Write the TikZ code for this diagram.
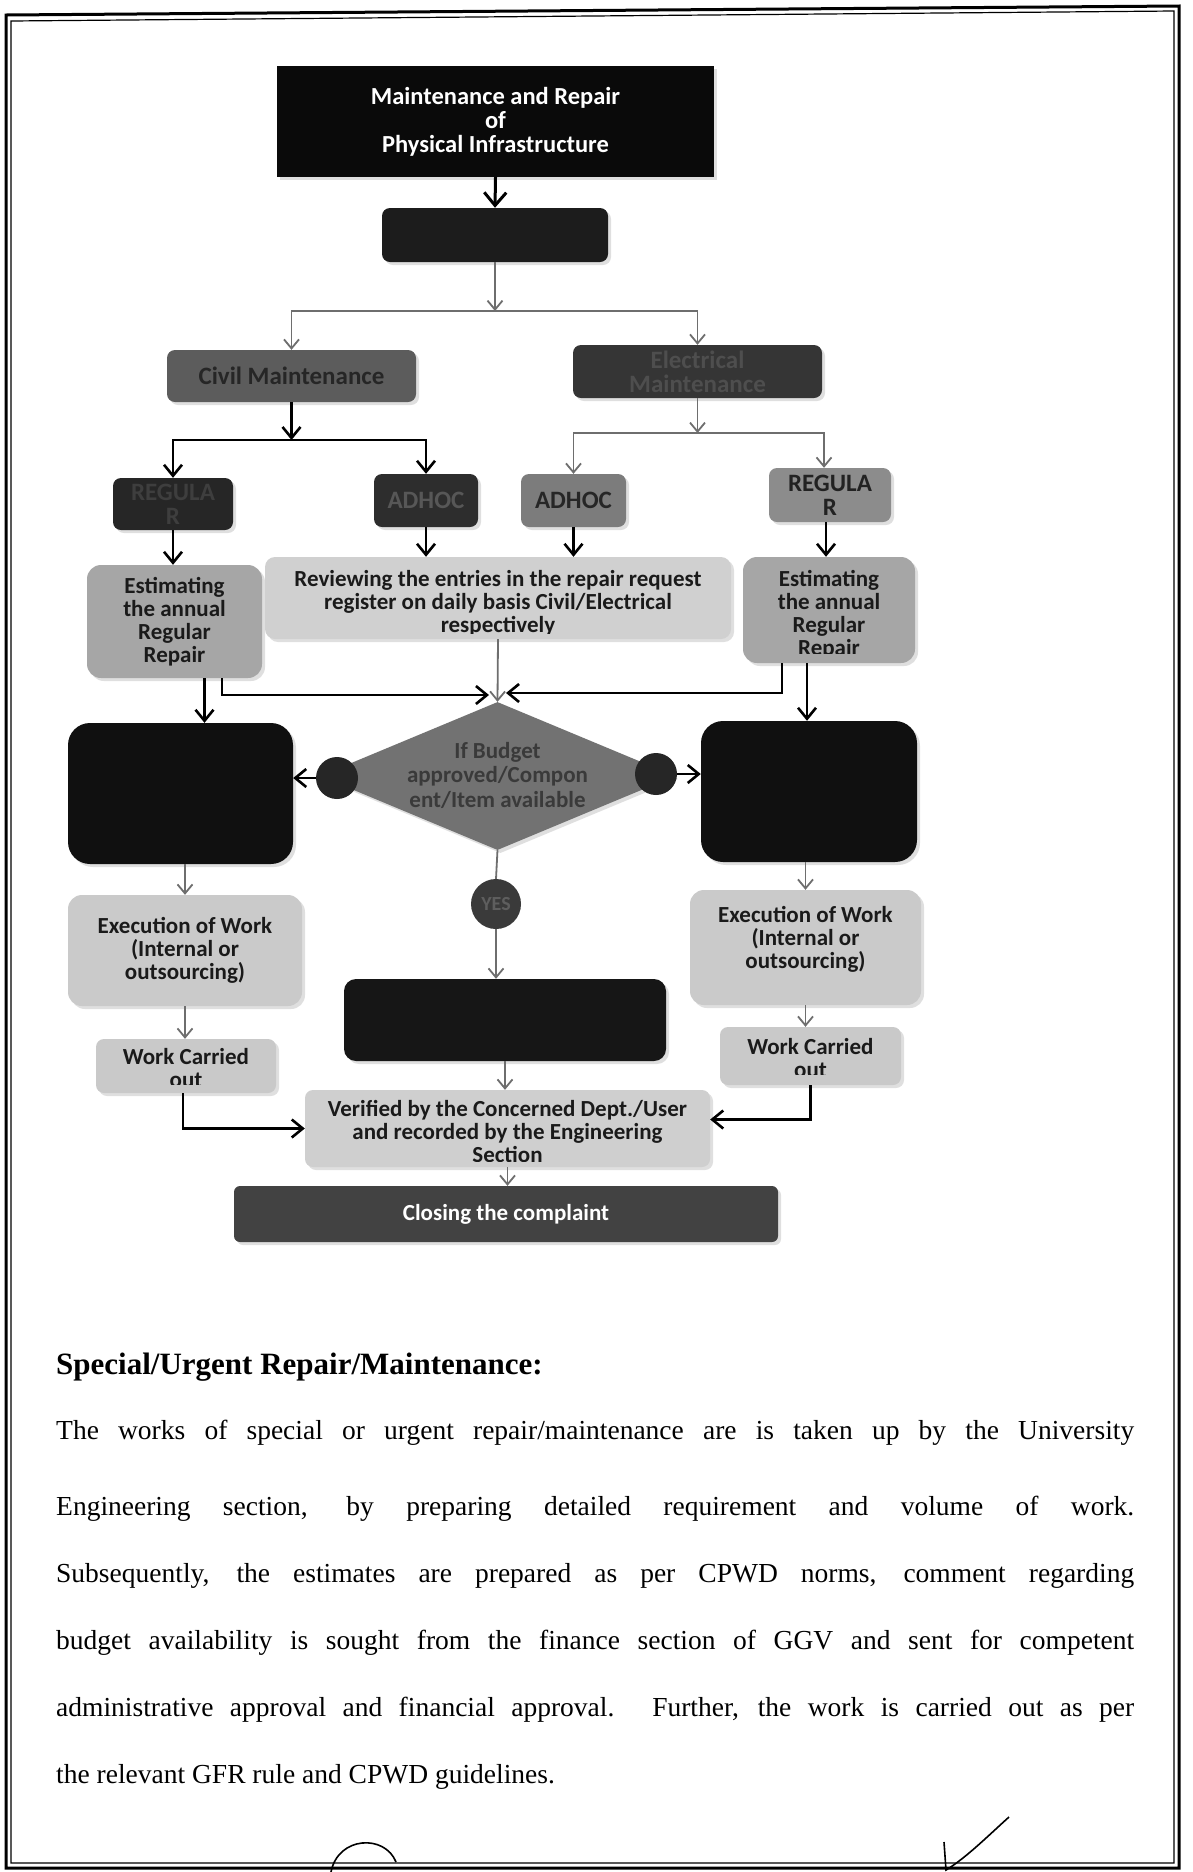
\documentclass[tikz,border=0pt]{standalone}
\usepackage{fontspec}
\setmainfont{Liberation Serif}
\newfontfamily\calfont{Carlito}
\usetikzlibrary{arrows.meta,shapes.geometric,shadows}
\definecolor{cLineG}{HTML}{6E6E6E}
\definecolor{cTop}{HTML}{0A0A0A}
\definecolor{cSecond}{HTML}{1C1C1C}
\definecolor{cCivil}{HTML}{5C5C5C}
\definecolor{tCivil}{HTML}{262626}
\definecolor{cElec}{HTML}{353535}
\definecolor{tElec}{HTML}{4E4E4E}
\definecolor{cRegC}{HTML}{262626}
\definecolor{tRegC}{HTML}{3E3E3E}
\definecolor{cAdhC}{HTML}{2D2D2D}
\definecolor{tAdhC}{HTML}{575757}
\definecolor{cAdhE}{HTML}{7C7C7C}
\definecolor{tAdhE}{HTML}{262626}
\definecolor{cRegE}{HTML}{8C8C8C}
\definecolor{tRegE}{HTML}{222222}
\definecolor{cEst}{HTML}{A6A6A6}
\definecolor{cRev}{HTML}{D0D0D0}
\definecolor{cDark}{HTML}{101010}
\definecolor{cDia}{HTML}{727272}
\definecolor{tDia}{HTML}{3A3A3A}
\definecolor{cKnob}{HTML}{262626}
\definecolor{cYes}{HTML}{3A3A3A}
\definecolor{tYes}{HTML}{5E5E5E}
\definecolor{cExe}{HTML}{CACACA}
\definecolor{cMid}{HTML}{161616}
\definecolor{cWc}{HTML}{C9C9C9}
\definecolor{cVer}{HTML}{CFCFCF}
\definecolor{cClose}{HTML}{424242}
\definecolor{txtD}{HTML}{1A1A1A}
\begin{document}
\begin{tikzpicture}[x=1pt,y=-1pt,
  every node/.style={inner sep=0pt},
  box/.style={rounded corners=8pt, align=center, font=\calfont\bfseries\fontsize{23}{23}\selectfont, text=txtD, drop shadow={shadow xshift=3pt,shadow yshift=-3pt,opacity=0.25}},
  bigbox/.style={box, font=\calfont\bfseries\fontsize{25}{24}\selectfont},
  darkbox/.style={box, rounded corners=22pt, fill=cDark},
  lbl/.style={align=center, font=\calfont\bfseries\fontsize{23}{23}\selectfont, text=txtD},
  arrK/.style={draw=black, line width=2.6pt, -{Straight Barb[length=11pt,width=18pt]}},
  arrG/.style={draw=cLineG, line width=1.8pt, -{Straight Barb[length=9pt,width=15pt]}},
  lineK/.style={draw=black, line width=2.6pt},
  lineG/.style={draw=cLineG, line width=1.8pt},
  knob/.style={circle, fill=cKnob, minimum size=42pt},
  para/.style={anchor=base west, font=\fontsize{27.5}{27.5}\selectfont},
]
\useasboundingbox (0,0) rectangle (1192,1872);
\fill[white] (0,0) rectangle (1192,1872);
% page border
\draw[line width=3pt] (6,15) -- (1179,6) -- (1179,1868) -- (6,1868) -- cycle;
\draw[line width=1.2pt] (11,21) -- (1174,11) -- (1174,1863) -- (11,1863) -- cycle;

% ---------- nodes ----------
\node[box, rounded corners=0pt, fill=cTop, text=white, minimum width=437pt, minimum height=111pt,
      font=\calfont\bfseries\fontsize{24.5}{24}\selectfont] (top) at (495.5,121.5)
      {Maintenance and Repair\\of\\Physical Infrastructure};
\node[box, fill=cSecond, minimum width=226pt, minimum height=54pt] (second) at (495,235) {};

\node[bigbox, fill=cCivil, text=tCivil, minimum width=249pt, minimum height=52pt] (civil) at (291.5,376) {Civil Maintenance};
\node[bigbox, fill=cElec, text=tElec, minimum width=249pt, minimum height=53pt] (elec) at (697.5,371.5) {Electrical\\Maintenance};

\node[bigbox, fill=cRegC, text=tRegC, minimum width=120pt, minimum height=52pt] (regC) at (173,504) {REGULA\\R};
\node[bigbox, fill=cAdhC, text=tAdhC, minimum width=104pt, minimum height=53pt] (adhC) at (426,500.5) {ADHOC};
\node[bigbox, fill=cAdhE, text=tAdhE, minimum width=105pt, minimum height=53pt] (adhE) at (573.5,500.5) {ADHOC};
\node[bigbox, fill=cRegE, text=tRegE, minimum width=122pt, minimum height=54pt] (regE) at (830,495) {REGULA\\R};

\node[box, rounded corners=14pt, fill=cEst, minimum width=175pt, minimum height=113pt] (estL) at (174.5,621.5)
      {Estimating\\the annual\\Regular\\Repair};
\node[box, rounded corners=10pt, fill=cRev, minimum width=466pt, minimum height=82pt] (rev) at (498,598) {};
\begin{scope}
  \clip (265,550) rectangle (731,633);
  \node[lbl] (revtxt) at (498,603) {Reviewing the entries in the repair request\\register on daily basis Civil/Electrical\\respectively};
\end{scope}
\node[box, rounded corners=14pt, fill=cEst, minimum width=172pt, minimum height=106pt] (estR) at (829,610) {};
\begin{scope}
  \clip (743,550) rectangle (915,653);
  \node[lbl] (estRtxt) at (829,615) {Estimating\\the annual\\Regular\\Repair};
\end{scope}

\node[darkbox, minimum width=225pt, minimum height=141pt] (darkL) at (180.5,793.5) {};
\node[darkbox, minimum width=216pt, minimum height=141pt] (darkR) at (809,791.5) {};

\node[diamond, fill=cDia, minimum width=355pt, minimum height=148pt, drop shadow={shadow xshift=3pt,shadow yshift=-3pt,opacity=0.25}] (dia) at (497.5,776) {};
\node[lbl, text=tDia, font=\calfont\bfseries\fontsize{23}{24.5}\selectfont] (diatxt) at (497.5,775) {If Budget\\approved/Compon\\ent/Item available};
\node[knob] (circL) at (337,778) {};
\node[knob] (circR) at (656,774) {};
\node[circle, fill=cYes, text=tYes, minimum size=50pt, font=\calfont\bfseries\fontsize{20}{20}\selectfont] (yes) at (496,904) {YES};

\node[box, rounded corners=14pt, fill=cExe, minimum width=234pt, minimum height=111pt] (exeL) at (185,950.5)
      {Execution of Work\\(Internal or\\outsourcing)};
\node[box, rounded corners=14pt, fill=cExe, minimum width=231pt, minimum height=115pt] (exeR) at (805.5,947.5) {};
\node[lbl] (exeRtxt) at (805.5,939) {Execution of Work\\(Internal or\\outsourcing)};
\node[box, rounded corners=12pt, fill=cMid, minimum width=322pt, minimum height=82pt] (mid) at (505,1020) {};

\node[box, fill=cWc, minimum width=180pt, minimum height=54pt] (wcL) at (186,1066) {};
\begin{scope}
  \clip (96,1035) rectangle (276,1084);
  \node[lbl] (wcLtxt) at (186,1068) {Work Carried\\out};
\end{scope}
\node[box, fill=cWc, minimum width=181pt, minimum height=58pt] (wcR) at (810.5,1056) {};
\begin{scope}
  \clip (720,1022) rectangle (901,1074);
  \node[lbl] (wcRtxt) at (810.5,1058) {Work Carried\\out};
\end{scope}

\node[box, fill=cVer, minimum width=405pt, minimum height=77pt] (ver) at (507.5,1128.5) {};
\begin{scope}
  \clip (305,1085) rectangle (710,1161);
  \node[lbl] (vertxt) at (507.5,1131) {Verified by the Concerned Dept./User\\and recorded by the Engineering\\Section};
\end{scope}
\node[box, rounded corners=6pt, fill=cClose, text=white, minimum width=544pt, minimum height=56pt] (close) at (506,1214) {Closing the complaint};

% ---------- coordinates ----------
\coordinate (sp1) at (495,311);
\coordinate (sp2) at (291.5,440);
\coordinate (sp3) at (697.5,433);
\coordinate (djL) at (489,695);
\coordinate (djR) at (506,693);

% ---------- connectors ----------
\draw[draw=black, line width=3pt, -{Straight Barb[length=13pt,width=22pt]}] (top.south) -- (second.north);
\draw[arrG] (second.south) -- (sp1);
\draw[arrG] (sp1) -| (civil.north);
\draw[arrG] (sp1) -| (elec.north);

\draw[arrK] (civil.south) -- (sp2);
\draw[arrK] (sp2) -| (regC.north);
\draw[arrK] (sp2) -| (adhC.north);

\draw[arrG] (elec.south) -- (sp3);
\draw[arrG] (sp3) -| (adhE.north);
\draw[arrG] (sp3) -| ([xshift=-6pt]regE.north);

\draw[arrK] (regC.south) -- (regC.south |- estL.north);
\draw[arrK] (adhC.south) -- (adhC.south |- rev.north);
\draw[arrK] (adhE.south) -- (adhE.south |- rev.north);
\draw[arrK] ([xshift=-4pt]regE.south) -- ([xshift=-4pt]regE.south |- estR.north);

\draw[arrG] (rev.south) -- (dia.north);
\draw[arrK] ([xshift=47.5pt]estL.south) |- (djL);
\draw[arrK] ([xshift=-47pt]estR.south) |- (djR);
\draw[arrK] ([xshift=30pt]estL.south) -- ([xshift=30pt]estL.south |- darkL.north);
\draw[arrK] ([xshift=-22pt]estR.south) -- ([xshift=-22pt]estR.south |- darkR.north);

\draw[arrK] (circL.west) -- (circL.west -| darkL.east);
\draw[arrK] (circR.east) -- (circR.east -| darkR.west);

\draw[lineG] (dia.south) -- (yes.north);
\draw[arrG] (yes.south) -- (yes.south |- mid.north);

\draw[arrG] (darkL.south -| exeL.north) -- (exeL.north);
\draw[arrG] (darkR.south -| exeR.north) -- (exeR.north);
\draw[arrG] (exeL.south) -- (exeL.south |- wcL.north);
\draw[arrG] (exeR.south) -- (exeR.south |- wcR.north);

\draw[arrK] ([xshift=-3pt]wcL.south) |- (ver.west);
\draw[arrK] (wcR.south) |- ([yshift=9pt]ver.east);
\draw[arrG] (mid.south) -- (mid.south |- ver.north);
\draw[arrG] (ver.south) -- (ver.south |- close.north);

% ---------- text ----------
\node[anchor=base west, font=\bfseries\fontsize{31}{31}\selectfont] (head) at (56,1374) {Special/Urgent Repair/Maintenance:};
\node[para] (p1) at (56,1439) {\makebox[1078pt][s]{The works of special or urgent repair/maintenance are is taken up by the University}};
\node[para] (p2) at (56,1515) {\makebox[1078pt][s]{Engineering section, by preparing detailed requirement and volume of work.}};
\node[para] (p3) at (56,1582) {\makebox[1078pt][s]{Subsequently, the estimates are prepared as per CPWD norms, comment regarding}};
\node[para] (p4) at (56,1649) {\makebox[1078pt][s]{budget availability is sought from the finance section of GGV and sent for competent}};
\node[para] (p5) at (56,1716) {\makebox[1078pt][s]{administrative approval and financial approval. Further, the work is carried out as per}};
\node[para] (p6) at (56,1783) {the relevant GFR rule and CPWD guidelines.};

% ---------- signatures ----------
\draw[line width=1.6pt] (331,1872) .. controls (338,1836) and (385,1834) .. (396,1862);
\draw[line width=1.6pt] (944,1842) -- (946,1870) .. controls (966,1858) and (990,1834) .. (1009,1817);
\end{tikzpicture}
\end{document}
